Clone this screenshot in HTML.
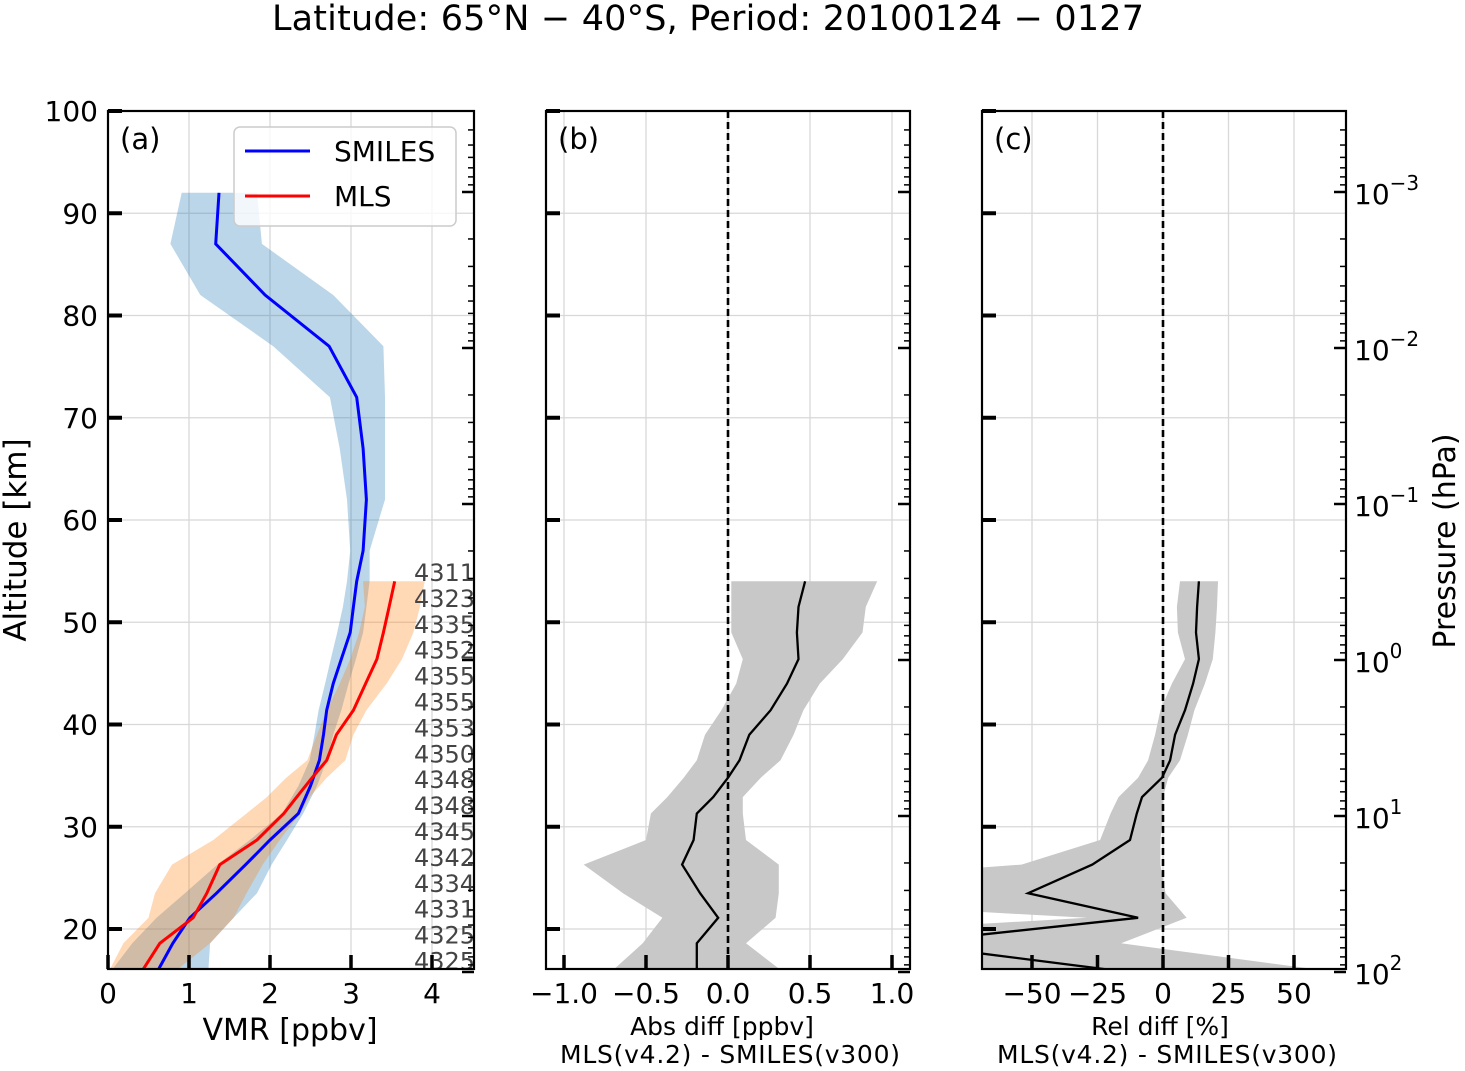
<!DOCTYPE html>
<html><head><meta charset="utf-8"><style>
body{margin:0;background:#fff}
svg{display:block;font-family:"DejaVu Sans","Liberation Sans",sans-serif}
</style></head><body>
<svg id="fig" width="1465" height="1071" viewBox="0 0 1465 1071">
<defs>
<clipPath id="ca"><rect x="108" y="111" width="366" height="858"/></clipPath>
<clipPath id="cb"><rect x="546" y="111" width="364" height="858"/></clipPath>
<clipPath id="cc"><rect x="982" y="111" width="364" height="858"/></clipPath>
</defs>
<text x="708" y="30" font-size="35" text-anchor="middle" textLength="872">Latitude: 65°N − 40°S, Period: 20100124 − 0127</text>
<g id="root"></g>
</svg>
<script>
// ---- data ----
const smilesAlt = [92,87,82,77,72,67,62,57,54,51.5,49,46.4,44,41.4,39,36.5,34,31.3,28.7,26.3,23.5,21.1,18.6,16];
const smilesVmr = [1.37,1.33,1.94,2.73,3.07,3.15,3.19,3.15,3.07,3.03,2.99,2.88,2.78,2.70,2.66,2.61,2.50,2.35,2.0,1.7,1.34,1.01,0.8,0.62];
const smilesLo  = [0.91,0.77,1.14,2.04,2.74,2.86,2.95,2.99,2.95,2.90,2.83,2.75,2.68,2.60,2.55,2.49,2.35,2.15,1.75,1.35,0.95,0.6,0.3,0.05];
const smilesHi  = [1.84,1.9,2.78,3.40,3.42,3.42,3.42,3.23,3.23,3.19,3.15,3.06,2.97,2.88,2.78,2.70,2.58,2.41,2.21,2.02,1.84,1.55,1.26,1.24];
const alt = [54,51.5,49,46.4,44,41.4,39,36.5,34.8,32.9,31.3,28.7,26.3,23.5,21.1,18.6,16];
const mlsVmr = [3.54,3.47,3.40,3.32,3.18,3.03,2.82,2.70,2.52,2.33,2.17,1.84,1.38,1.22,1.05,0.64,0.43];
const mlsLo  = [3.15,3.17,3.10,2.99,2.86,2.70,2.58,2.46,2.20,1.96,1.71,1.30,0.79,0.58,0.50,0.19,0.02];
const mlsHi  = [3.91,3.85,3.77,3.63,3.44,3.19,3.03,2.93,2.70,2.49,2.37,2.12,1.91,1.71,1.55,1.26,0.85];
const absDiff = [0.47,0.43,0.42,0.43,0.36,0.26,0.13,0.07,0,-0.09,-0.19,-0.21,-0.28,-0.17,-0.06,-0.19,-0.19];
const absLo   = [0.02,0.02,0.02,0.09,0.05,-0.04,-0.14,-0.19,-0.27,-0.37,-0.47,-0.5,-0.88,-0.64,-0.40,-0.52,-0.70];
const absHi   = [0.91,0.84,0.82,0.70,0.56,0.46,0.40,0.32,0.20,0.09,0.09,0.11,0.31,0.31,0.29,0.11,0.32];
const relDiff = [13.7,13,12.6,13.7,11.5,8.4,4.6,2.7,-0.4,-8,-10,-12.6,-27,-51.5,-9.5,-100,-20];
const relLo   = [6.5,5.3,5.7,8.4,3.4,-1,-3,-5.7,-9.5,-17,-20,-24,-54,-200,-29,-200,-200];
const relHi   = [21,20.6,20,19,16,12,9.5,6.5,2,0,0,-1,-1,1,9,-16,60];
const nLabels = ["4311","4323","4335","4352","4355","4355","4353","4350","4348","4348","4345","4342","4334","4331","4325","4325"];
const altTicks = [20,30,40,50,60,70,80,90,100];
const vmrTicks = [0,1,2,3,4];
const absTicks = [-1.0,-0.5,0.0,0.5,1.0];
const absTickLabels = ["−1.0","−0.5","0.0","0.5","1.0"];
const relTicks = [-50,-25,0,25,50];
const relTickLabels = ["−50","−25","0","25","50"];
const pDecades = [-3,-2,-1,0,1,2];

// ---- axes ----
const Y = a => 111 + (100 - a) * 10.225;
const XA = v => 108 + v * 81;
const XB = v => 728 + v * 164;
const XC = v => 1163 + v * 2.62;
const PY = lp => 192 + 156 * (lp + 3);
const NS = "http://www.w3.org/2000/svg";
const root = document.getElementById('root');
function mk(tag, attrs, parent) {
  const e = document.createElementNS(NS, tag);
  for (const k in attrs) e.setAttribute(k, attrs[k]);
  (parent || root).appendChild(e);
  return e;
}
function poly(xs, lo, hi, altArr, X) {
  let p = altArr.map((a, i) => X(hi[i]).toFixed(1) + ',' + Y(a).toFixed(1));
  for (let i = altArr.length - 1; i >= 0; i--) p.push(X(lo[i]).toFixed(1) + ',' + Y(altArr[i]).toFixed(1));
  return p.join(' ');
}
function line(vals, altArr, X) {
  return altArr.map((a, i) => X(vals[i]).toFixed(1) + ',' + Y(a).toFixed(1)).join(' ');
}

const panels = [
  {x0:108, x1:474, X:XA, ticks:vmrTicks, labels:vmrTicks.map(String), clip:'ca', id:'a'},
  {x0:546, x1:910, X:XB, ticks:absTicks, labels:absTickLabels, clip:'cb', id:'b'},
  {x0:982, x1:1346, X:XC, ticks:relTicks, labels:relTickLabels, clip:'cc', id:'c'}
];
panels.forEach(P => {
  const g = mk('g', {});
  
  
  P.ticks.forEach(t => {
    const l = mk('line', {x1:P.X(t), x2:P.X(t), y1:111, y2:969, stroke:'#d8d8d8', 'stroke-width':1.3}, g);
    
    
  });
  altTicks.forEach(t => {
    const l = mk('line', {x1:P.x0, x2:P.x1, y1:Y(t), y2:Y(t), stroke:'#d8d8d8', 'stroke-width':1.3}, g);
    
    
  });
  P.g = g;
});

const ga = mk('g', {'clip-path':'url(#ca)'});


let e;
e = mk('polygon', {points:poly(0, smilesLo, smilesHi, smilesAlt, XA), fill:'#1f77b4', 'fill-opacity':0.3}, ga);


e = mk('polygon', {points:poly(0, mlsLo, mlsHi, alt, XA), fill:'#ff7f0e', 'fill-opacity':0.3}, ga);


e = mk('polyline', {points:line(smilesVmr, smilesAlt, XA), fill:'none', stroke:'#0000ff', 'stroke-width':3}, ga);


e = mk('polyline', {points:line(mlsVmr, alt, XA), fill:'none', stroke:'#ff0000', 'stroke-width':3}, ga);



const gb = mk('g', {'clip-path':'url(#cb)'});


e = mk('polygon', {points:poly(0, absLo, absHi, alt, XB), fill:'#c8c8c8'}, gb);


e = mk('polyline', {points:line(absDiff, alt, XB), fill:'none', stroke:'#000', 'stroke-width':2.3}, gb);


e = mk('line', {x1:XB(0), x2:XB(0), y1:111, y2:969, stroke:'#000', 'stroke-width':2.6, 'stroke-dasharray':'7,4'}, gb);



const gc = mk('g', {'clip-path':'url(#cc)'});


e = mk('polygon', {points:poly(0, relLo, relHi, alt, XC), fill:'#c8c8c8'}, gc);


e = mk('polyline', {points:line(relDiff, alt, XC), fill:'none', stroke:'#000', 'stroke-width':2.3}, gc);


e = mk('line', {x1:XC(0), x2:XC(0), y1:111, y2:969, stroke:'#000', 'stroke-width':2.6, 'stroke-dasharray':'7,4'}, gc);



nLabels.forEach((s, i) => {
  const t = mk('text', {x:414, y:581 + i * 25.9, 'font-size':24, fill:'#444'});
  t.textContent = s;
  
  
});

panels.forEach(P => {
  const g = mk('g', {});
  
  
  mk('rect', {x:P.x0, y:111, width:P.x1 - P.x0, height:858, fill:'none', stroke:'#000', 'stroke-width':2.2}, g);
  altTicks.forEach(t => {
    mk('line', {x1:P.x0, x2:P.x0 + 14, y1:Y(t), y2:Y(t), stroke:'#000', 'stroke-width':4}, g);
  });
  P.ticks.forEach((t, i) => {
    mk('line', {x1:P.X(t), x2:P.X(t), y1:969, y2:955, stroke:'#000', 'stroke-width':3.5}, g);
    const tx = mk('text', {x:P.X(t), y:1003, 'font-size':28, 'text-anchor':'middle'}, g);
    tx.textContent = P.labels[i];
    
    
  });
  pDecades.forEach(d => {
    mk('line', {x1:P.x1, x2:P.x1 - 12, y1:PY(d), y2:PY(d), stroke:'#000', 'stroke-width':2.5}, g);
    for (let m = 2; m <= 9; m++) {
      const y = PY(d - 1 + Math.log10(m));
      if (y > 112 && y < 969) mk('line', {x1:P.x1, x2:P.x1 - 6, y1:y, y2:y, stroke:'#000', 'stroke-width':1.5}, g);
    }
  });
  const lab = mk('text', {x:P.x0 + 12, y:149, 'font-size':29}, g);
  lab.textContent = '(' + P.id + ')';
  
  
});

altTicks.forEach(t => {
  const tx = mk('text', {x:98, y:Y(t) + 10, 'font-size':28, 'text-anchor':'end'});
  tx.textContent = String(t);
  
  
});
pDecades.forEach(d => {
  const tx = mk('text', {x:1354, y:PY(d) + 12, 'font-size':28});
  tx.textContent = '10';
  
  
  const sp = mk('tspan', {dy:-14, 'font-size':20}, tx);
  sp.textContent = d < 0 ? '−' + (-d) : String(d);
});
</script>
<svg width="1465" height="1071" style="position:absolute;left:0;top:0">
<g font-family="DejaVu Sans, Liberation Sans, sans-serif">
<text transform="translate(26,540) rotate(-90)" font-size="31" text-anchor="middle">Altitude [km]</text>
<text transform="translate(1455,541) rotate(-90)" font-size="30" text-anchor="middle">Pressure (hPa)</text>
<text x="290" y="1040" font-size="30" text-anchor="middle">VMR [ppbv]</text>
<text x="722" y="1035" font-size="25" text-anchor="middle">Abs diff [ppbv]</text>
<text x="730" y="1063" font-size="25" text-anchor="middle" textLength="340">MLS(v4.2) - SMILES(v300)</text>
<text x="1160" y="1035" font-size="25" text-anchor="middle">Rel diff [%]</text>
<text x="1167" y="1063" font-size="25" text-anchor="middle" textLength="340">MLS(v4.2) - SMILES(v300)</text>
<g>
<rect x="234" y="127" width="222" height="99" rx="6" fill="#fff" fill-opacity="0.8" stroke="#ccc" stroke-width="1.5"/>
<line x1="245" x2="310" y1="151" y2="151" stroke="#0000ff" stroke-width="3"/>
<text x="334" y="161" font-size="28">SMILES</text>
<line x1="245" x2="310" y1="196" y2="196" stroke="#ff0000" stroke-width="3"/>
<text x="334" y="206" font-size="28">MLS</text>
</g>
</g>
</svg>
</body></html>
